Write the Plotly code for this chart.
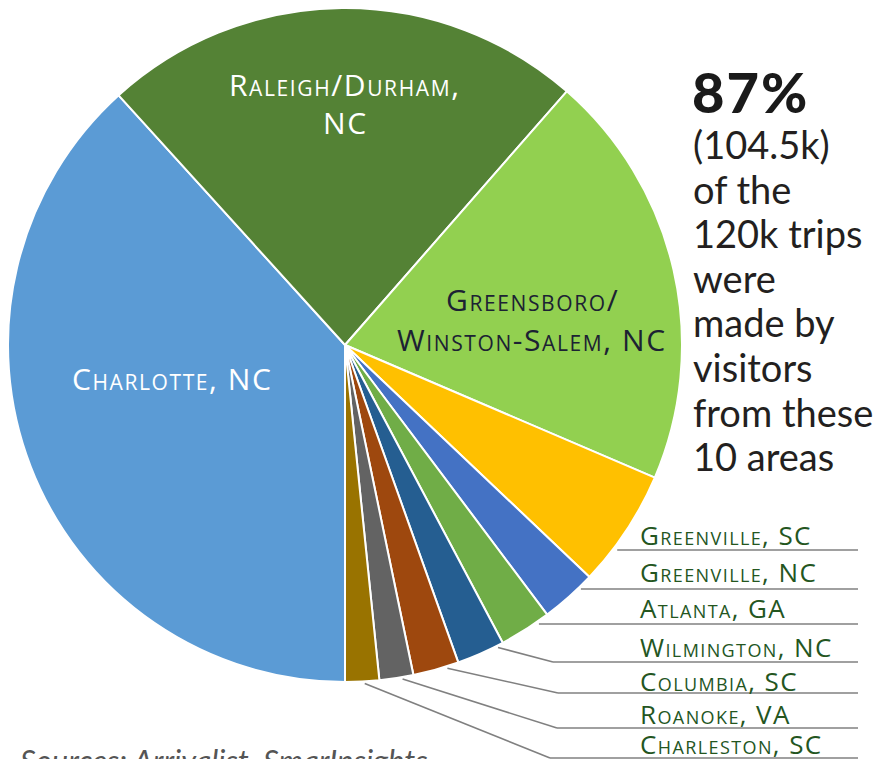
import math
import plotly.graph_objects as go

# Trips (thousands) by visitor origin, 104.5k of 120k total
areas = ["Charlotte, NC", "Raleigh/Durham, NC", "Greensboro/Winston-Salem, NC",
         "Greenville, SC", "Greenville, NC", "Atlanta, GA", "Wilmington, NC",
         "Columbia, SC", "Roanoke, VA", "Charleston, SC"]
trips_k = [40.0, 24.2, 20.9, 5.9, 2.8, 2.6, 2.4, 2.3, 1.7, 1.7]
colors = ["#5b9bd5", "#548235", "#92d050", "#ffc000", "#4472c4",
          "#70ad47", "#255e91", "#9e480e", "#636363", "#997300"]

headline = "87%"
blurb = ["(104.5k)", "of the", "120k trips", "were", "made by",
         "visitors", "from these", "10 areas"]
source = "Sources: Arrivalist, SmarInsights"

W, H = 888, 759
CX, CY, R = 345, 345, 337          # pie centre and radius, pixels
ROTATION = 180                      # first slice starts at 6 o'clock


def px(x):
    return x / W


def py(y):
    return 1 - y / H


def spaced(txt, sp):
    return f"<span style='letter-spacing:{sp}px'>{txt}</span>"


fig = go.Figure(go.Pie(
    labels=areas, values=trips_k, sort=False, direction="clockwise",
    rotation=ROTATION, textinfo="none", hoverinfo="label+value+percent",
    marker=dict(colors=colors, line=dict(color="white", width=2)),
    domain=dict(x=[px(CX - R), px(CX + R)], y=[py(CY + R), py(CY - R)]),
    showlegend=False,
))

label_font = "Open Sans"
ann = []

# Labels inside the three large slices
inside = [
    ("Charlotte, NC", 172, 378, "white"),
    ("Raleigh/Durham,", 345, 84, "white"),
    ("NC", 345, 122, "white"),
    ("Greensboro/", 532, 300, "#1c2233"),
    ("Winston-Salem, NC", 532, 340, "#1c2233"),
]
for txt, x, y, c in inside:
    ann.append(dict(x=px(x), y=py(y), xref="paper", yref="paper",
                    text=spaced(txt, 1.6),
                    showarrow=False, xanchor="center", yanchor="middle",
                    font=dict(family=label_font, size=30, color=c,
                              variant="small-caps")))

# Callouts for the seven small slices: label row y, underline y, elbow x,
# and where along the slice's outer arc the leader starts
small = areas[3:]
rows = [
    (535, 550, None, 0.66),
    (572, 589, None, 0.25),
    (608, 624, None, 0.22),
    (647, 662, 553, 0.13),
    (681, 693, 558, 0.26),
    (714, 728, 557, 0.33),
    (744, 758, 550, 0.43),
]
total = sum(trips_k)
start = ROTATION
angles = []
for v in trips_k:
    span = 360 * v / total
    angles.append((start, span))
    start += span

shapes = []
line_style = dict(color="#808080", width=1.6)
for i, (name, (ty, uy, ex, frac)) in enumerate(zip(small, rows)):
    a0, span = angles[3 + i]
    a = math.radians((a0 + frac * span) % 360)
    sx = CX + (R + 2) * math.sin(a)
    sy = CY - (R + 2) * math.cos(a)
    if ex is None:
        x_start = sx
    else:
        x_start = ex
        shapes.append(dict(type="line", xref="paper", yref="paper",
                           x0=px(sx), y0=py(sy), x1=px(ex), y1=py(uy),
                           line=line_style))
    shapes.append(dict(type="line", xref="paper", yref="paper",
                       x0=px(x_start), y0=py(uy), x1=px(858), y1=py(uy),
                       line=line_style))
    ann.append(dict(x=px(638), y=py(ty), xref="paper", yref="paper",
                    text=spaced(name, 1.4), showarrow=False, xanchor="left",
                    yanchor="middle",
                    font=dict(family=label_font, size=26, color="#24561f",
                              variant="small-caps")))

# Headline block on the right
ann.append(dict(x=px(690), y=py(91), xref="paper", yref="paper",
                text=spaced(headline, 2), showarrow=False, xanchor="left",
                yanchor="middle",
                font=dict(family="Lato", size=56, color="#1a1a1a",
                          weight=900)))
for k, line in enumerate(blurb):
    ann.append(dict(x=px(691), y=py(144 + k * 44.6), xref="paper",
                    yref="paper", text=line, showarrow=False,
                    xanchor="left", yanchor="middle",
                    font=dict(family="Lato", size=38, color="#231f20")))

ann.append(dict(x=px(18), y=py(739), xref="paper", yref="paper",
                text=source, showarrow=False, xanchor="left", yanchor="top",
                font=dict(family="Lato", size=31, color="#555555",
                          style="italic")))

fig.update_layout(
    width=W, height=H, margin=dict(l=0, r=0, t=0, b=0),
    paper_bgcolor="white", plot_bgcolor="white",
    annotations=ann, shapes=shapes,
)

fig.write_html("out.html")
